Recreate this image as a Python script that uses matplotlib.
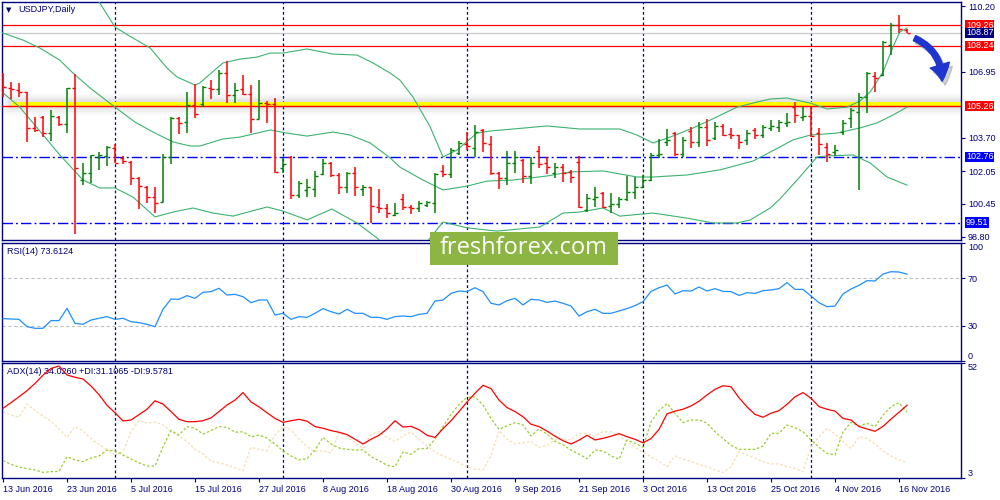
import matplotlib.pyplot as plt
from matplotlib.patches import FancyArrowPatch, Rectangle

# ---- values (USDJPY daily, 13 Jun - 17 Nov 2016) ----
dates = ["13 Jun 2016", "23 Jun 2016", "5 Jul 2016", "15 Jul 2016", "27 Jul 2016",
         "8 Aug 2016", "18 Aug 2016", "30 Aug 2016", "9 Sep 2016", "21 Sep 2016",
         "3 Oct 2016", "13 Oct 2016", "25 Oct 2016", "4 Nov 2016", "16 Nov 2016"]
date_bars = [0, 8, 16, 24, 32, 40, 48, 56, 64, 72, 80, 88, 96, 104, 112]
month_start_bars = [14, 35, 58, 80, 101]

opens = [106.30, 106.15, 106.05, 105.96, 104.18, 104.72, 103.93, 104.72, 104.38, 106.15,
         101.61, 101.96, 102.75, 102.80, 103.19, 102.70, 102.50, 101.71, 101.27, 100.77,
         100.53, 102.75, 104.67, 104.47, 105.31, 105.36, 106.15, 106.10, 106.89, 105.81,
         106.10, 105.86, 104.62, 105.41, 105.36, 102.20, 102.75, 100.87, 101.12, 101.17,
         101.91, 102.45, 101.86, 101.27, 101.96, 101.17, 101.27, 100.28, 100.23, 99.88,
         100.67, 100.28, 100.23, 100.38, 100.48, 102.06, 101.91, 102.94, 103.39, 103.19,
         104.08, 103.39, 101.96, 101.71, 102.45, 102.60, 101.81, 103.04, 102.45, 101.96,
         102.25, 102.01, 102.50, 100.13, 100.67, 100.97, 100.33, 100.43, 100.67, 101.02,
         101.27, 101.61, 102.85, 103.49, 103.93, 102.89, 104.03, 103.49, 104.23, 103.68,
         104.28, 103.88, 103.83, 103.59, 104.08, 103.83, 104.18, 104.23, 104.43, 105.21,
         104.72, 104.77, 103.93, 103.24, 102.99, 103.98, 104.67, 104.97, 105.71, 106.74,
         106.79, 108.27, 109.26, 109.02]
highs = [106.89, 106.45, 106.40, 105.96, 104.72, 104.77, 105.07, 104.77, 106.15, 106.84,
         102.45, 102.85, 102.99, 103.29, 103.39, 102.80, 102.55, 101.76, 101.32, 101.27,
         102.89, 104.72, 104.72, 105.96, 106.35, 106.25, 106.55, 107.04, 107.49, 106.40,
         106.79, 106.30, 106.55, 105.51, 105.66, 102.70, 102.80, 101.56, 101.66, 102.06,
         102.65, 102.50, 101.96, 102.01, 102.25, 101.36, 101.27, 101.17, 100.43, 100.48,
         100.92, 100.38, 100.57, 100.57, 101.96, 102.35, 103.19, 103.54, 103.98, 104.33,
         104.13, 103.78, 102.01, 103.04, 103.04, 102.65, 102.75, 103.29, 102.75, 102.45,
         102.40, 102.11, 102.80, 100.92, 101.27, 101.02, 100.97, 100.77, 101.81, 101.76,
         101.86, 102.94, 103.64, 104.13, 103.98, 103.73, 104.23, 104.47, 104.62, 104.47,
         104.38, 104.18, 103.83, 104.08, 104.18, 104.33, 104.57, 104.57, 104.92, 105.46,
         105.21, 105.21, 104.18, 103.44, 103.34, 104.57, 105.17, 105.91, 106.94, 106.94,
         108.47, 109.36, 109.76, 109.07]
lows = [105.71, 105.61, 105.71, 103.49, 103.98, 103.73, 103.54, 104.28, 103.93, 98.95,
        101.36, 101.46, 102.11, 102.30, 102.45, 102.40, 101.36, 100.18, 100.48, 99.98,
        100.53, 102.40, 103.88, 103.93, 104.67, 105.21, 105.61, 105.81, 105.41, 105.41,
        105.81, 103.93, 104.62, 104.43, 101.96, 101.96, 100.67, 100.72, 100.77, 100.77,
        101.86, 101.76, 100.92, 100.97, 100.82, 100.82, 99.49, 99.98, 99.74, 99.83,
        100.13, 99.93, 100.03, 100.28, 99.98, 101.76, 101.71, 102.85, 103.09, 102.75,
        102.99, 101.86, 101.17, 101.36, 101.96, 101.46, 101.41, 102.20, 101.91, 101.71,
        101.51, 101.46, 100.23, 100.03, 100.28, 100.23, 99.98, 100.23, 100.57, 100.67,
        101.27, 101.56, 102.70, 103.29, 102.80, 102.75, 103.19, 103.24, 103.29, 103.59,
        103.78, 103.64, 103.14, 103.34, 103.64, 103.68, 104.03, 103.98, 104.23, 104.43,
        104.52, 103.73, 102.85, 102.50, 102.80, 103.83, 104.18, 101.12, 104.92, 105.96,
        106.74, 107.78, 108.87, 108.87]
closes = [106.20, 106.10, 105.96, 104.18, 104.08, 103.93, 104.77, 104.38, 106.15, 102.20,
          101.96, 102.85, 102.85, 103.24, 102.45, 102.55, 101.71, 101.32, 100.77, 100.48,
          102.75, 104.67, 104.43, 105.31, 104.87, 106.20, 106.10, 106.89, 105.81, 106.05,
          105.86, 104.62, 105.41, 105.36, 102.01, 102.40, 100.87, 101.46, 101.27, 101.81,
          102.45, 101.86, 101.27, 101.96, 101.27, 101.27, 100.33, 100.23, 99.98, 99.98,
          100.28, 100.23, 100.48, 100.53, 101.91, 101.91, 103.09, 103.44, 103.29, 103.98,
          103.44, 101.96, 101.71, 102.45, 102.75, 101.81, 102.45, 102.40, 102.25, 102.25,
          101.96, 101.76, 100.28, 100.72, 100.77, 100.28, 100.43, 100.67, 101.02, 101.27,
          101.61, 102.85, 102.89, 103.59, 102.89, 103.59, 103.49, 104.23, 103.59, 104.28,
          103.83, 103.83, 103.49, 103.93, 103.83, 104.23, 104.28, 104.47, 104.47, 104.82,
          104.77, 103.78, 103.39, 102.89, 103.09, 104.43, 105.07, 105.71, 106.89, 106.65,
          108.42, 109.26, 109.07, 108.87]

# Bollinger bands, sampled along the bar axis
bb_upper_bar = [10.6, 12.1, 14, 16.25, 18.4, 20.5, 21.75, 24, 24.6, 26.75, 27.5, 29.6, 31.75,
                33.4, 35, 38, 41.25, 44.25, 46.25, 48.4, 49.6, 51.25, 53.4, 55, 56.75, 59.25,
                60.9, 63.75, 68, 72.1, 77.1, 79.25, 81.25, 83.4, 86.25, 88.4, 91.75, 94.25,
                95.9, 98, 100.9, 103, 105.5, 107.1, 108.4, 110, 111.25, 112.1, 113]
bb_upper = [111.09, 110.35, 109.16, 108.62, 108.13, 107.14, 106.70, 106.30, 106.40, 107.14,
            107.39, 107.58, 107.68, 107.88, 107.88, 108.08, 107.83, 107.78, 107.39, 106.89,
            106.55, 105.71, 104.23, 102.75, 103.09, 103.93, 104.03, 104.13, 104.28, 104.13,
            104.13, 103.83, 103.44, 103.73, 104.18, 104.57, 105.21, 105.46, 105.61, 105.66,
            105.41, 105.12, 105.21, 105.51, 105.96, 106.94, 108.18, 108.92, 109.11]
bb_mid_bar = [-0.4, 2.5, 4.6, 7.1, 8.75, 10.9, 14, 16.5, 18.75, 21.25, 23.4, 24.6, 27.5, 29.6,
              31.75, 33.4, 35.5, 38, 41.25, 43.4, 45.9, 48.4, 49.6, 52.5, 55, 58, 60.5, 63.75,
              68, 70.9, 75, 79.25, 81.25, 85.5, 89.6, 93.75, 95.9, 98.75, 100.9, 104.25,
              107.1, 109.25, 111.25, 113]
bb_mid = [108.92, 108.52, 108.13, 107.53, 106.89, 106.15, 105.21, 104.47, 103.98, 103.49,
          103.29, 103.29, 103.64, 103.73, 103.93, 104.08, 103.93, 103.78, 103.98, 103.83,
          103.44, 102.70, 102.25, 101.61, 101.12, 101.31, 101.56, 101.61, 101.81, 102.01,
          102.06, 101.76, 101.76, 101.86, 102.11, 102.55, 102.99, 103.59, 103.83, 103.93,
          104.18, 104.43, 104.82, 105.21]
bb_lower_bar = [-0.4, 2.1, 7.1, 10, 12.1, 14, 16.25, 19, 21.25, 23.75, 26.25, 28.75, 33, 35,
                38, 41.1, 44.25, 46.75, 49, 51.5, 53.4, 55, 58, 61.75, 67.1, 70, 72.1, 75,
                77.1, 81.25, 85.5, 88.75, 91.75, 93.4, 95.9, 97.1, 99.6, 101.75, 103, 106.25,
                108.4, 110.5, 113]
bb_lower = [106.05, 105.21, 102.85, 101.61, 101.22, 101.22, 100.77, 99.79, 100.03, 100.23,
            99.98, 99.83, 100.28, 100.08, 99.64, 100.18, 99.49, 98.75, 97.91, 97.91,
            98.75, 99.54, 99.25, 99.09, 99.29, 99.98, 100.03, 100.23, 99.83, 99.98,
            99.73, 99.49, 99.49, 99.64, 100.23, 100.67, 101.76, 102.75, 102.80, 102.85,
            102.45, 101.76, 101.36]

rsi = [35.9, 35.6, 35.3, 29.1, 27.7, 27.7, 34.2, 34.2, 44.6, 31.9, 31.1, 34.7, 36.2, 37.6,
       35.3, 36.2, 33.3, 32.5, 31.1, 29.1, 43.8, 52.5, 52.3, 55.4, 53.1, 58.2, 58.8, 61.6,
       55.9, 56.5, 54.5, 49.4, 51.7, 51.7, 39.0, 40.4, 35.3, 37.6, 37.0, 40.4, 44.4, 41.8,
       39.8, 43.8, 40.4, 40.4, 37.0, 37.0, 35.3, 37.6, 38.1, 37.6, 39.5, 40.4, 50.8, 51.7,
       57.3, 59.3, 58.8, 62.1, 58.8, 48.9, 47.5, 51.1, 53.1, 47.5, 52.3, 51.7, 49.7, 50.8,
       48.9, 46.6, 38.1, 41.8, 43.8, 40.4, 40.4, 42.4, 44.4, 46.9, 50.3, 59.0, 62.1, 64.4,
       56.8, 59.6, 59.3, 62.7, 59.3, 61.3, 59.0, 58.8, 55.6, 57.9, 57.3, 59.6, 60.2, 61.3,
       66.4, 60.7, 60.7, 55.1, 49.4, 46.0, 46.6, 56.8, 61.0, 64.1, 68.1, 67.8, 73.7, 75.7,
       75.4, 73.6]
rsi_levels = [70, 30]

adx = [32.7, 35.1, 37.6, 40.2, 43.3, 46.8, 49.7, 50.7, 46.9, 45.9, 45.2, 42.2, 38.5, 34.0,
       30.8, 27.3, 27.7, 30.0, 32.3, 35.9, 34.5, 31.3, 28.0, 27.0, 27.0, 27.4, 28.6, 31.3,
       34.1, 36.2, 39.4, 35.4, 33.3, 30.8, 28.4, 26.7, 27.4, 28.0, 27.2, 24.9, 24.2, 23.2,
       22.5, 21.5, 19.5, 17.5, 19.5, 21.2, 23.9, 27.4, 24.7, 25.0, 23.6, 21.2, 20.3, 24.0,
       27.4, 31.3, 35.4, 39.1, 42.5, 41.1, 36.2, 33.0, 31.3, 29.1, 25.9, 24.9, 23.0, 20.8,
       18.9, 17.5, 19.1, 21.2, 19.2, 19.9, 20.8, 21.9, 20.6, 19.5, 18.0, 19.8, 23.7, 30.3,
       31.5, 32.3, 33.7, 35.7, 38.4, 40.8, 42.3, 41.9, 37.2, 33.3, 30.1, 28.9, 30.6, 31.7,
       34.4, 37.6, 39.4, 37.0, 33.4, 32.3, 31.5, 28.4, 27.7, 24.9, 23.9, 22.9, 25.0, 28.1,
       31.0, 34.0]
plus_di = [10.4, 8.8, 7.7, 7.0, 6.4, 5.4, 5.7, 5.8, 12.1, 10.7, 10.0, 11.5, 12.4, 14.9,
           14.6, 12.8, 11.1, 9.5, 8.1, 8.1, 16.3, 23.2, 21.3, 24.9, 24.2, 21.7, 23.2, 24.9,
           24.6, 22.5, 22.7, 20.5, 21.3, 20.0, 17.4, 14.6, 12.4, 10.7, 11.2, 14.9, 20.3, 17.5,
           15.8, 15.2, 14.9, 15.0, 12.1, 10.4, 8.4, 7.8, 14.1, 13.1, 15.5, 15.6, 19.5, 24.9,
           30.1, 34.4, 37.4, 37.6, 34.1, 28.4, 23.7, 25.2, 26.6, 25.6, 20.9, 23.9, 21.7, 18.6,
           17.2, 14.9, 13.2, 11.2, 14.9, 14.5, 12.4, 11.0, 19.2, 17.8, 16.1, 26.9, 31.7, 34.7,
           30.6, 26.6, 27.7, 27.7, 26.4, 22.7, 19.8, 16.9, 15.2, 15.2, 15.2, 16.6, 22.0, 22.0,
           25.6, 24.4, 22.7, 19.2, 16.1, 13.5, 12.8, 22.6, 26.7, 25.2, 26.3, 24.9, 29.8, 33.4,
           35.1, 31.1]
minus_di = [31.3, 29.8, 28.9, 34.5, 31.7, 29.4, 27.2, 23.9, 20.3, 24.9, 23.0, 19.8, 17.2, 15.2,
            12.8, 14.1, 22.7, 27.7, 26.4, 26.9, 25.6, 22.9, 20.9, 18.5, 15.2, 13.2, 10.1, 9.5,
            8.5, 7.3, 6.1, 16.1, 15.2, 14.6, 21.3, 24.9, 23.5, 19.6, 16.3, 14.2, 14.6, 13.7,
            22.3, 20.6, 18.0, 15.5, 21.7, 22.7, 20.3, 18.5, 20.9, 22.6, 19.5, 16.6, 14.1, 12.4,
            11.0, 9.5, 7.8, 6.7, 6.4, 12.5, 23.2, 19.6, 17.5, 18.0, 18.5, 16.1, 16.9, 19.2,
            19.5, 19.2, 22.0, 22.0, 21.0, 22.7, 22.7, 21.0, 18.5, 16.1, 13.8, 12.1, 10.2, 7.8,
            12.4, 11.0, 10.0, 8.7, 7.8, 6.5, 5.3, 7.8, 14.2, 12.8, 11.4, 10.0, 9.0, 9.0,
            7.8, 7.1, 5.7, 16.3, 20.6, 24.2, 21.7, 18.5, 15.6, 20.5, 19.9, 17.5, 14.6, 12.4,
            10.7, 9.6]

red_levels = [109.26, 108.24]
key_level = 105.26
blue_levels = [102.76, 99.51]
last_price = 108.87
price_ticks = [110.20, 106.95, 103.70, 102.05, 100.45, 98.80]

# ---- style ----
NAVY = "#000080"
UP, DOWN = "#008000", "#FF0000"
BAND = "#3CB371"
FONT = "Liberation Sans"
FS = 6.5
plt.rcParams["font.family"] = [FONT, "DejaVu Sans"]

W, H = 1000, 500
fig = plt.figure(figsize=(10, 5), dpi=100)
fig.patch.set_facecolor("white")


def panel(top, bottom):
    a = fig.add_axes([2 / W, 1 - bottom / H, 959 / W, (bottom - top) / H])
    a.set_xlim(-0.125, 119.75)
    for s in a.spines.values():
        s.set_color(NAVY)
        s.set_linewidth(1.0)
    a.yaxis.tick_right()
    a.tick_params(axis="y", direction="out", length=3, width=0.8, color=NAVY,
                  labelsize=FS, labelcolor=NAVY, pad=2)
    a.tick_params(axis="x", bottom=False, labelbottom=False)
    for m in month_start_bars:
        a.axvline(m, color=NAVY, lw=0.9, ls=(0, (2.2, 2.0)), zorder=1)
    return a


ax = panel(2, 240)
ax_rsi = panel(243, 361)
ax_adx = panel(363, 478)

# ---- price panel ----
ax.set_ylim(98.65, 110.40)
ax.set_yticks(price_ticks)
ax.set_yticklabels([f"{v:.2f}" for v in price_ticks])

# shadowed key level
for lw, a in [(15, 0.05), (11, 0.07), (7, 0.1)]:
    ax.axhline(key_level + 0.08, xmin=0.0115, color="#808080", lw=lw, alpha=a, zorder=2)
ax.axhline(key_level + 0.1, xmin=0.0115, color="#FFFF00", lw=3.6, zorder=2)
ax.axhline(key_level, color="#FF0000", lw=1.0, zorder=3)

for lv in red_levels:
    ax.axhline(lv, color="#FF0000", lw=0.9, zorder=2)
ax.axhline(last_price, color="#C8C8C8", lw=0.9, zorder=2)
for lv in blue_levels:
    ax.axhline(lv, color="#0000FF", lw=1.0, ls=(0, (7.5, 2.2, 1.4, 2.2)), zorder=2)

ax.plot(bb_upper_bar, bb_upper, color=BAND, lw=0.8, zorder=4)
ax.plot(bb_mid_bar, bb_mid, color=BAND, lw=0.8, zorder=4)
ax.plot(bb_lower_bar, bb_lower, color=BAND, lw=0.8, zorder=4)

bars = list(range(len(opens)))
cols = [UP if c >= o else DOWN for o, c in zip(opens, closes)]
ax.vlines(bars, lows, highs, colors=cols, lw=1.1, zorder=5)
ax.hlines(opens, [b - 0.42 for b in bars], bars, colors=cols, lw=1.0, zorder=5)
ax.hlines(closes, bars, [b + 0.42 for b in bars], colors=cols, lw=1.0, zorder=5)

label_boxes = [(109.26, "#FF0000"), (108.24, "#FF0000"), (last_price, NAVY),
               (key_level, "#FF0000"), (102.76, "#0000FF"), (99.51, "#0000FF")]
for lv, c in label_boxes:
    ax.annotate(f"{lv:.2f}", xy=(1, lv), xycoords=ax.get_yaxis_transform(),
                xytext=(3.6, 0), textcoords="offset points", ha="left", va="center",
                fontsize=FS, color="white", annotation_clip=False,
                bbox=dict(boxstyle="square,pad=0.08", fc=c, ec="none"))

fig.text(6 / W, 1 - 10.5 / H, "\u25BC", fontsize=5, color=NAVY, va="center",
         family="DejaVu Sans")
fig.text(18 / W, 1 - 10 / H, "USDJPY,Daily", fontsize=FS, color=NAVY, va="center")

# ---- RSI panel ----
ax_rsi.set_ylim(0, 100)
ax_rsi.set_yticks([0, 30, 70, 100])
rl = ax_rsi.set_yticklabels(["0", "30", "70", "100"])
rl[0].set_va("bottom")
rl[3].set_va("top")
for lv in rsi_levels:
    ax_rsi.axhline(lv, color="#C0C0C0", lw=0.8, ls=(0, (3, 2.2)), zorder=1)
ax_rsi.plot(bars, rsi, color="#1E90FF", lw=0.9, zorder=3)
ax_rsi.text(5 / 959, 1 - 8 / 118, "RSI(14) 73.6124", transform=ax_rsi.transAxes,
            fontsize=FS, color=NAVY, va="center", ha="left")

# ---- ADX panel ----
ax_adx.set_ylim(3, 52)
ax_adx.set_yticks([3, 52])
al = ax_adx.set_yticklabels(["3", "52"])
al[0].set_va("bottom")
al[1].set_va("top")
ax_adx.plot(bars, minus_di, color="#F5DEB3", lw=0.9, ls=(0, (2, 1.6)), zorder=2)
ax_adx.plot(bars, plus_di, color="#9ACD32", lw=0.9, ls=(0, (2, 1.6)), zorder=3)
ax_adx.plot(bars, adx, color="#FF0000", lw=0.9, zorder=4)
ax_adx.text(5 / 959, 1 - 9 / 115, "ADX(14) 34.0260 +DI:31.1065 -DI:9.5781",
            transform=ax_adx.transAxes, fontsize=FS, color=NAVY, va="center", ha="left")
ax_adx.set_xticks(date_bars)
ax_adx.set_xticklabels(dates, ha="left")
ax_adx.tick_params(axis="x", bottom=True, labelbottom=True, direction="out", length=3,
                   width=0.8, color=NAVY, labelsize=FS, labelcolor=NAVY, pad=2)

# ---- watermark ----
fig.add_artist(Rectangle((430 / W, 1 - 265 / H), 188 / W, 33 / H,
                         transform=fig.transFigure, fc="#8DB543", ec="none", zorder=10))
fig.text(524 / W, 1 - 248 / H, "freshforex.com", fontsize=17, color="white",
         family="Open Sans", ha="center", va="center", zorder=11)

# ---- hand-drawn arrow ----
arrow_kw = dict(arrowstyle="simple,head_width=1.6,head_length=1.3,tail_width=0.45",
                connectionstyle="arc3,rad=-0.35", mutation_scale=9,
                transform=fig.transFigure, zorder=12)
fig.add_artist(FancyArrowPatch((914 / W, 1 - 40 / H), (945 / W, 1 - 88 / H),
                               color="#808080", alpha=0.35, **arrow_kw))
fig.add_artist(FancyArrowPatch((912 / W, 1 - 37 / H), (942 / W, 1 - 84 / H),
                               color="#1F35D0", **arrow_kw))

fig.savefig("out.png", dpi=100, facecolor="white")
